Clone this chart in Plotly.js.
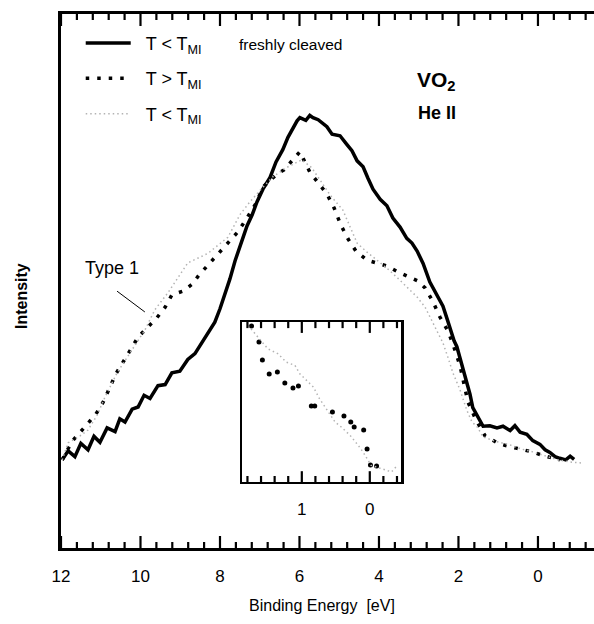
<!DOCTYPE html>
<html>
<head>
<meta charset="utf-8">
<script src="https://cdn.plot.ly/plotly-3.0.1.min.js"></script>
<style>html,body{margin:0;padding:0;background:#fff;}#chart{width:594px;height:624px;}</style>
</head>
<body>
<div id="chart"></div>
<script>
// Main spectra: binding energy (eV) and intensity (arb. units)
var coldE = [11.97,11.82,11.65,11.50,11.32,11.17,11.02,10.84,10.64,10.52,10.39,10.21,10.06,9.91,9.76,9.56,9.38,9.21,9.01,8.81,8.63,8.50,8.38,8.25,8.13,8.00,7.87,7.75,7.62,7.47,7.32,7.19,7.07,6.92,6.74,6.59,6.42,6.29,6.16,6.06,5.99,5.84,5.74,5.66,5.53,5.43,5.31,5.18,4.98,4.81,4.68,4.55,4.40,4.28,4.15,3.97,3.80,3.65,3.47,3.30,3.17,3.04,2.89,2.72,2.57,2.39,2.29,2.21,2.11,2.04,1.96,1.89,1.79,1.71,1.64,1.51,1.38,1.21,1.03,0.88,0.70,0.58,0.45,0.28,0.13,-0.05,-0.18,-0.30,-0.43,-0.55,-0.70,-0.81,-0.91];
var coldI = [16.5,18.2,17.1,19.6,18.4,20.9,19.8,22.5,21.8,24.2,23.6,26.0,26.4,28.6,28.0,30.4,30.6,32.8,33.1,35.3,36.4,38.0,39.2,40.9,42.3,44.8,47.6,50.4,53.8,57.0,60.3,62.4,64.8,67.2,69.4,72.3,74.6,76.9,78.8,80.0,80.6,80.1,81.0,80.6,80.2,79.6,78.9,77.5,77.2,75.6,74.4,72.5,71.4,69.3,67.2,65.3,64.1,61.8,60.1,58.0,57.1,55.6,53.3,49.8,47.6,45.3,43.0,40.9,38.8,37.7,35.6,33.4,30.8,28.8,26.3,24.5,22.8,22.9,22.5,22.8,22.0,22.9,21.7,21.3,20.1,19.4,18.4,17.9,17.1,16.8,16.5,17.2,16.6];

var hotE = [11.97,11.72,11.42,11.12,10.94,10.62,10.39,10.06,9.84,9.61,9.38,9.21,8.93,8.70,8.53,8.35,8.10,7.87,7.55,7.32,7.09,6.92,6.74,6.54,6.39,6.19,5.99,5.74,5.48,5.31,5.13,4.96,4.78,4.58,4.30,4.05,3.80,3.52,3.22,3.02,2.84,2.64,2.47,2.26,2.09,1.96,1.76,1.56,1.33,0.98,0.55,0.15,-0.18,-0.55];
var hotI = [16.5,20.0,22.5,25.1,27.3,32.6,35.4,39.5,41.2,42.9,45.1,47.4,48.1,49.4,51.1,52.6,54.7,56.7,59.2,61.8,64.6,67.6,68.9,70.2,70.8,72.5,74.2,70.4,68.0,66.3,63.7,60.5,57.9,55.6,53.9,53.4,52.8,51.7,50.6,50.0,48.7,46.1,43.3,40.6,37.1,34.1,27.3,24.0,21.0,19.5,18.7,18.0,17.2,16.5];

var type1E = [11.97,11.82,11.52,11.32,11.09,10.89,10.59,10.21,9.89,9.64,9.31,9.06,8.81,8.55,8.30,8.05,7.80,7.50,7.25,6.99,6.67,6.31,6.11,5.94,5.69,5.53,5.23,4.91,4.73,4.55,4.30,4.05,3.80,3.55,3.30,3.04,2.84,2.72,2.54,2.39,2.26,2.14,1.96,1.79,1.66,1.53,1.38,1.08,0.70,0.40,0.13,-0.18,-0.50,-0.81,-1.13];
var type1I = [16.5,19.7,21.0,22.1,24.9,28.3,32.8,37.1,40.8,44.6,47.8,50.6,53.4,54.3,55.2,56.7,58.2,62.4,64.8,67.0,69.5,71.3,72.1,72.7,71.2,69.5,66.1,63.3,60.1,57.1,55.4,53.9,52.4,50.7,48.9,47.0,45.1,43.3,40.8,38.4,35.6,32.8,29.6,25.8,23.6,22.7,20.8,20.0,19.3,18.5,18.0,17.2,16.5,16.1,15.9];

// Inset (near Fermi level)
var insetHotE = [1.74,1.63,1.58,1.48,1.36,1.25,1.13,1.05,0.86,0.81,0.55,0.38,0.28,0.23,0.09,0.04,-0.01,-0.10];
var insetHotI = [97.5,87.5,76.3,67.5,68.8,61.9,58.8,60.0,47.5,47.5,43.8,41.3,37.5,34.4,32.5,20.6,10.6,10.0];
var insetType1E = [1.79,1.67,1.50,1.35,1.23,1.10,1.03,0.83,0.74,0.61,0.51,0.42,0.29,0.17,0.10,-0.02,-0.17,-0.32,-0.41];
var insetType1I = [97.9,91.9,83.3,80.2,75.0,72.9,67.7,59.4,52.1,43.8,37.5,34.4,29.2,22.9,18.8,10.4,8.3,6.3,10.6];

// Tick values
var mainMajorTicks = [12,10,8,6,4,2,0];
var mainMinorTicks = [11.6,11.2,10.8,10.4,9.6,9.2,8.8,8.4,7.6,7.2,6.8,6.4,5.6,5.2,4.8,4.4,3.6,3.2,2.8,2.4,1.6,1.2,0.8,0.4,-0.4,-0.8,-1.2];
var insetMajorTicks = [1,0];
var insetMinorTicks = [1.8,1.6,1.4,1.2,0.8,0.6,0.4,0.2,-0.2,-0.4];

var names = ['&nbsp;&nbsp;T &lt; T<sub>MI</sub>', '&nbsp;&nbsp;T &gt; T<sub>MI</sub>', '&nbsp;&nbsp;T &lt; T<sub>MI</sub>'];

var FONT = 'Arial, "Liberation Sans", sans-serif';
var GRAY = '#b3b3b3';

var traces = [
  {x: coldE, y: coldI, type: 'scatter', mode: 'lines', name: names[0], legendgroup: 'a',
   line: {color: '#000', width: 3.5}},
  {x: hotE, y: hotI, type: 'scatter', mode: 'lines', name: names[1], legendgroup: 'b',
   line: {color: '#000', width: 3.5, dash: '3.5px,8px'}},
  {x: type1E, y: type1I, type: 'scatter', mode: 'lines', name: names[2], legendgroup: 'c',
   line: {color: GRAY, width: 1.5, dash: '1.5px,3px'}},
  {x: insetHotE, y: insetHotI, xaxis: 'x2', yaxis: 'y2', type: 'scatter', mode: 'markers', showlegend: false,
   marker: {color: '#000', size: 5}},
  {x: insetType1E, y: insetType1I, xaxis: 'x2', yaxis: 'y2', type: 'scatter', mode: 'lines', showlegend: false,
   line: {color: GRAY, width: 1.5, dash: '1.5px,3px'}}
];

// Inside tick marks (bottom and top) drawn as short vertical line markers.
// pxPerUnit converts a tick length in pixels into the axis' y units.
function tickTrace(vals, xa, ya, lenPx, pxPerUnit, yMin, yMax) {
  var half = (lenPx / 2) / pxPerUnit;
  var xs = [], ys = [];
  vals.forEach(function (v) { xs.push(v, v); ys.push(yMin + half, yMax - half); });
  return {x: xs, y: ys, xaxis: xa, yaxis: ya, type: 'scatter', mode: 'markers', showlegend: false,
          hoverinfo: 'skip', cliponaxis: false,
          marker: {symbol: 'line-ns', size: lenPx, color: '#000', line: {color: '#000', width: 2.2}}};
}
var MAIN_PX = 5.34;           // px per intensity unit in main plot (534 px / 100)
var INSET_PX = 1.6;           // px per unit in inset (160 px / 100)
traces.push(tickTrace(mainMinorTicks, 'x', 'y', 5, MAIN_PX, 0, 100));
traces.push(tickTrace(mainMajorTicks, 'x', 'y', 10, MAIN_PX, 0, 100));
traces.push(tickTrace(insetMinorTicks, 'x2', 'y2', 5, INSET_PX, 0, 100));
traces.push(tickTrace(insetMajorTicks, 'x2', 'y2', 9, INSET_PX, 0, 100));

var layout = {
  width: 594, height: 624,
  margin: {l: 61, r: 0, t: 14, b: 76},
  paper_bgcolor: '#fff', plot_bgcolor: '#fff',
  font: {family: FONT, color: '#000', size: 17},
  showlegend: true,
  legend: {x: 0.037, y: 0.98, xanchor: 'left', yanchor: 'top', bgcolor: 'rgba(0,0,0,0)',
           font: {family: FONT, size: 18, color: '#000'}, traceorder: 'grouped', tracegroupgap: 9, itemwidth: 45},
  xaxis: {
    range: [12, -1.41], tickmode: 'array', tickvals: mainMajorTicks, ticktext: mainMajorTicks.map(String),
    ticks: '', ticklabelstandoff: 11,
    showline: true, linewidth: 3, linecolor: '#000', mirror: true,
    showgrid: false, zeroline: false,
    tickfont: {family: FONT, size: 17, color: '#000'}
  },
  yaxis: {
    range: [0, 100], showticklabels: false, ticks: '',
    showline: true, linewidth: 3, linecolor: '#000', mirror: false,
    showgrid: false, zeroline: false
  },
  xaxis2: {
    domain: [0.3396, 0.638], anchor: 'y2', range: [1.88, -0.46],
    tickmode: 'array', tickvals: insetMajorTicks, ticktext: insetMajorTicks.map(String),
    ticks: '', ticklabelstandoff: 10,
    showline: true, linewidth: 2.5, linecolor: '#000', mirror: true,
    showgrid: false, zeroline: false,
    tickfont: {family: FONT, size: 17, color: '#000'}
  },
  yaxis2: {
    domain: [0.1236, 0.423], anchor: 'x2', range: [0, 100],
    showticklabels: false, ticks: '',
    showline: true, linewidth: 2.5, linecolor: '#000', mirror: true,
    showgrid: false, zeroline: false
  },
  annotations: [
    {xref: 'paper', yref: 'paper', x: 0.43, y: 0.942, xanchor: 'center', yanchor: 'middle',
     text: 'freshly cleaved', showarrow: false, font: {family: FONT, size: 15.5, color: '#000'}},
    {xref: 'paper', yref: 'paper', x: 0.705, y: 0.874, xanchor: 'center', yanchor: 'middle',
     text: '<b>VO<sub>2</sub></b>', showarrow: false, font: {family: FONT, size: 21, color: '#000'}},
    {xref: 'paper', yref: 'paper', x: 0.705, y: 0.815, xanchor: 'center', yanchor: 'middle',
     text: '<b>He II</b>', showarrow: false, font: {family: FONT, size: 18, color: '#000'}},
    {xref: 'x', yref: 'y', x: 10.72, y: 52.4, xanchor: 'center', yanchor: 'middle',
     text: 'Type 1', showarrow: false, font: {family: FONT, size: 18, color: '#000'}},
    {xref: 'paper', yref: 'paper', x: -0.073, y: 0.472, xanchor: 'center', yanchor: 'middle', textangle: -90,
     text: '<b>Intensity</b>', showarrow: false, font: {family: FONT, size: 16, color: '#000'}},
    {xref: 'paper', yref: 'paper', x: 0.49, y: -0.107, xanchor: 'center', yanchor: 'middle',
     text: 'Binding Energy  [eV]', showarrow: false, font: {family: FONT, size: 16, color: '#000'}}
  ],
  shapes: [
    {type: 'line', xref: 'x', yref: 'y', x0: 10.59, y0: 48.1, x1: 9.89, y1: 44.2,
     line: {color: '#000', width: 1}}
  ]
};

Plotly.newPlot('chart', traces, layout, {displayModeBar: false, staticPlot: true});
</script>
</body>
</html>
